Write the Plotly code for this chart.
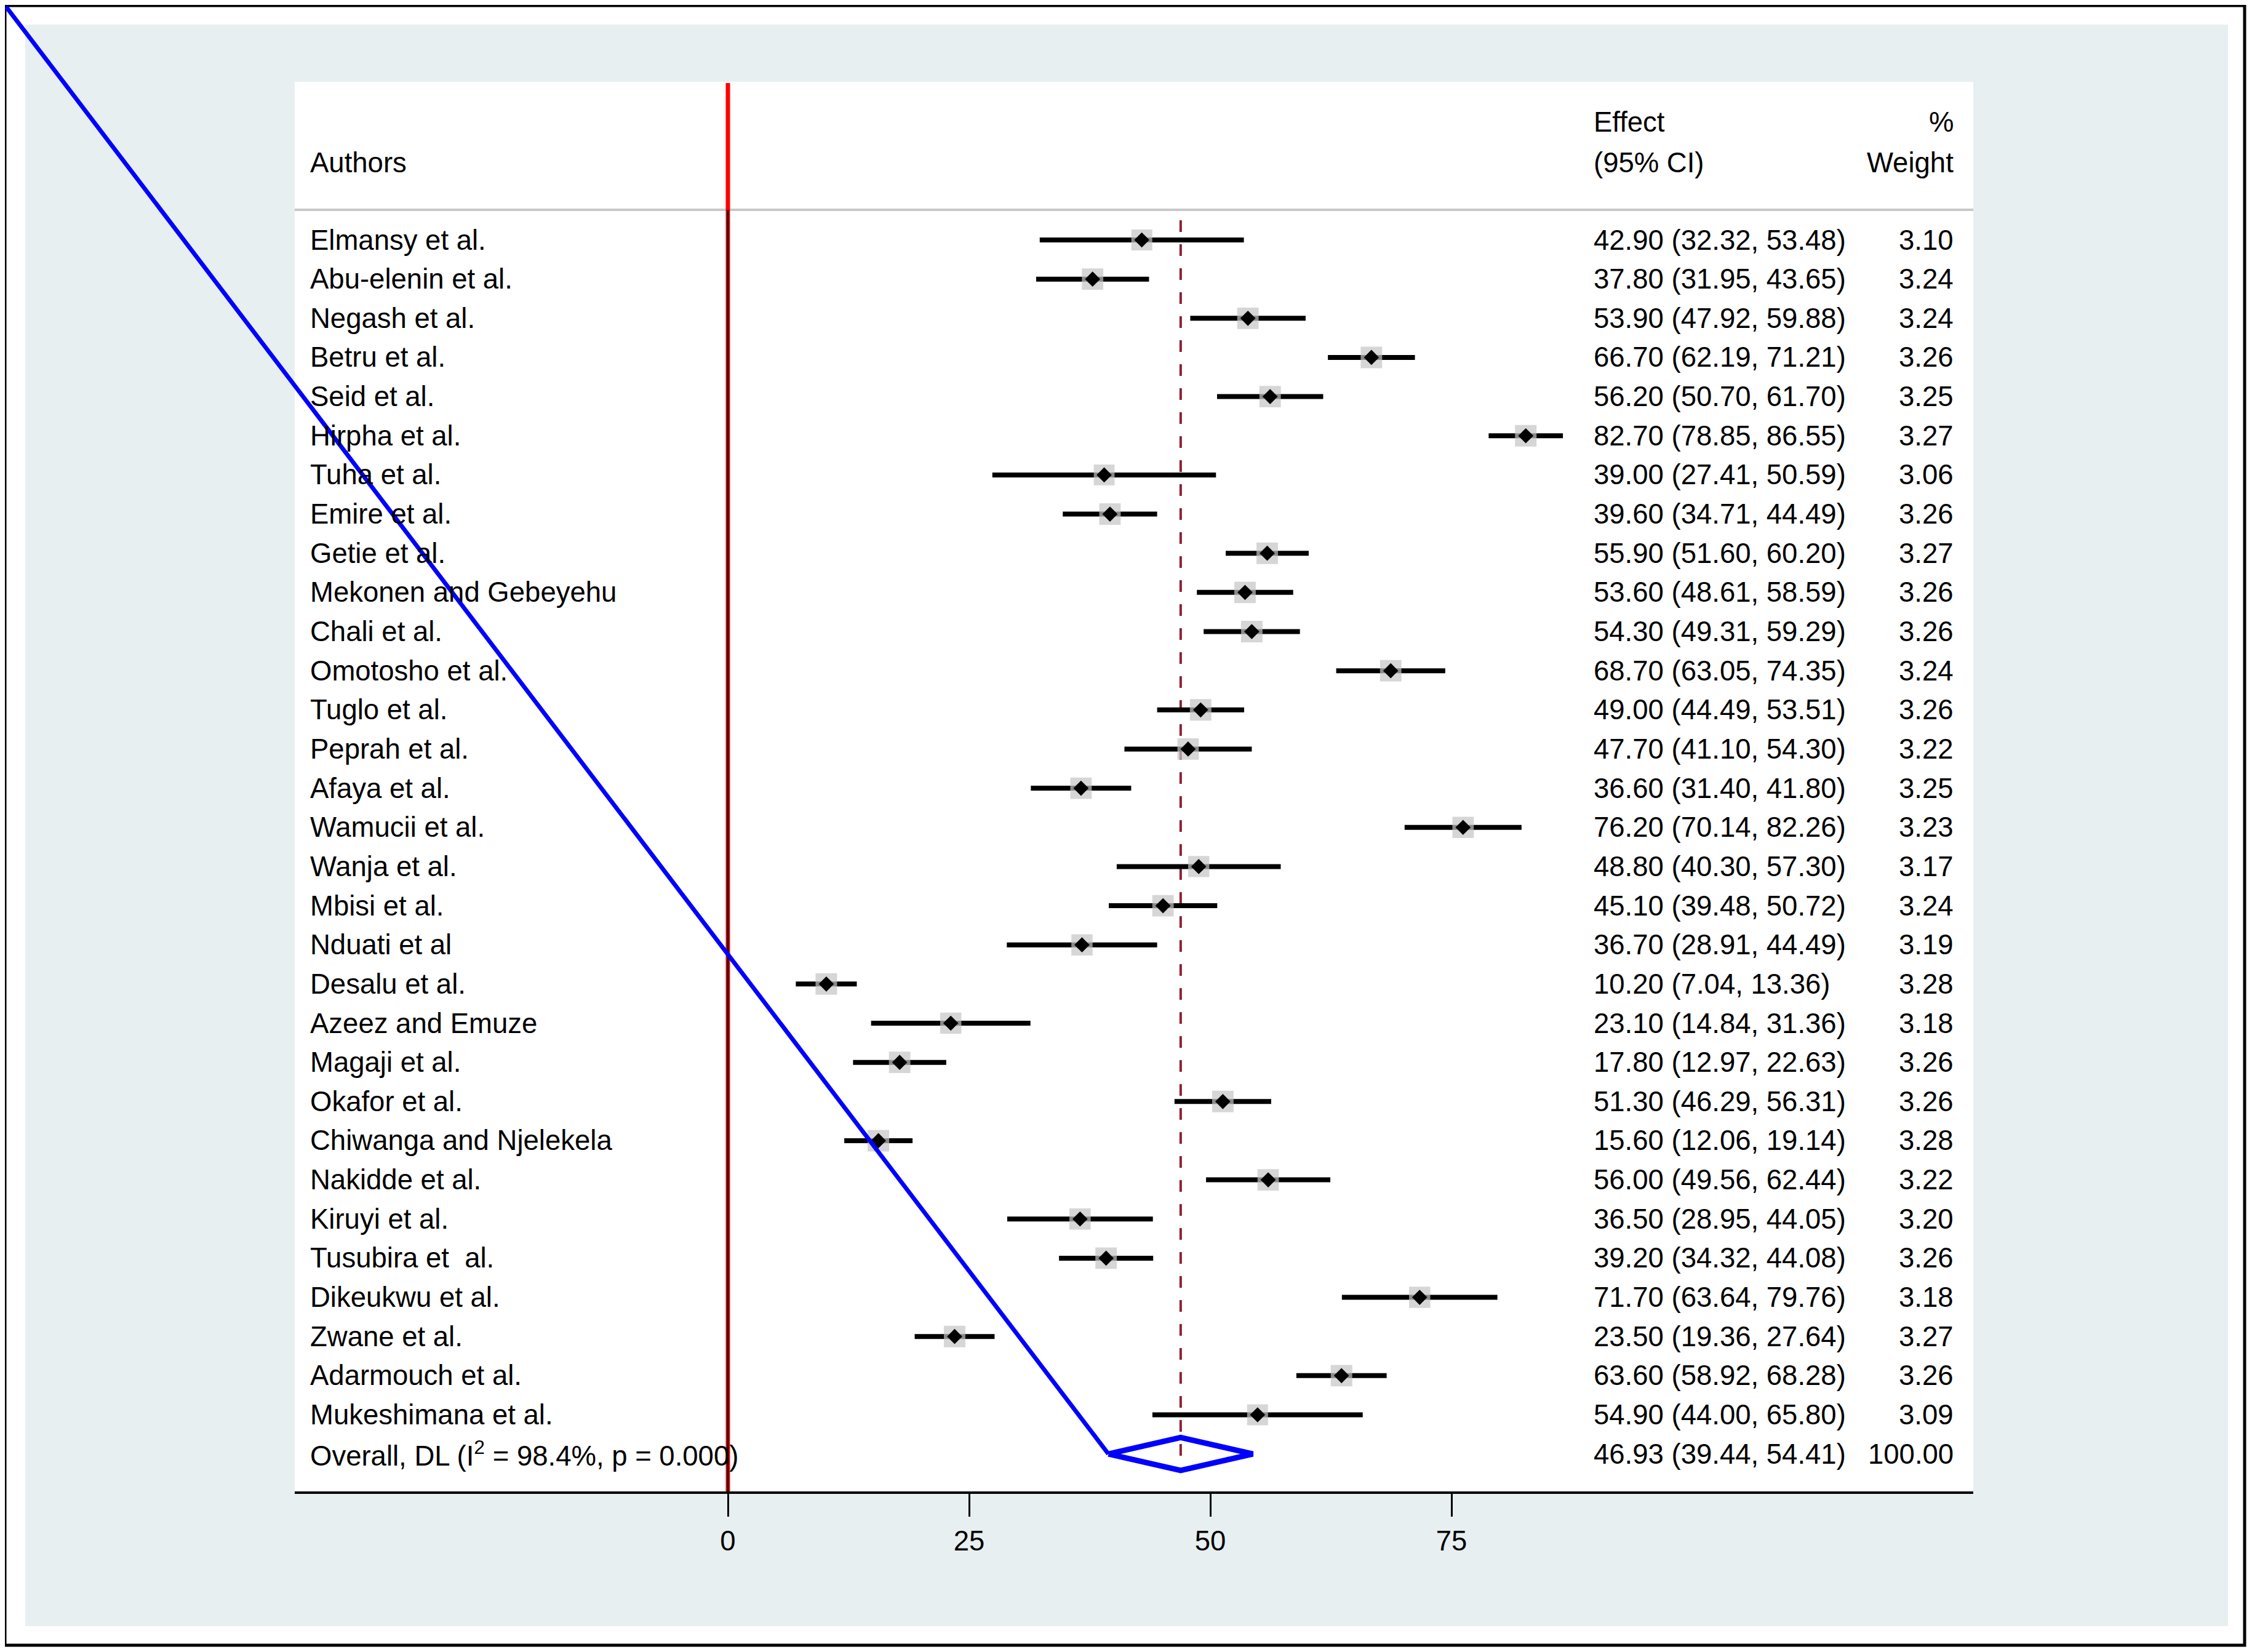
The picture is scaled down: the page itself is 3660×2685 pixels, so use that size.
import plotly.graph_objects as go

# ---------------- data ----------------
authors = [
    "Elmansy et al.", "Abu-elenin et al.", "Negash et al.", "Betru et al.", "Seid et al.",
    "Hirpha et al.", "Tuha et al.", "Emire et al.", "Getie et al.", "Mekonen and Gebeyehu",
    "Chali et al.", "Omotosho et al.", "Tuglo et al.", "Peprah et al.", "Afaya et al.",
    "Wamucii et al.", "Wanja et al.", "Mbisi et al.", "Nduati et al", "Desalu et al.",
    "Azeez and Emuze", "Magaji et al.", "Okafor et al.", "Chiwanga and Njelekela", "Nakidde et al.",
    "Kiruyi et al.", "Tusubira et\u00a0 al.", "Dikeukwu et al.", "Zwane et al.", "Adarmouch et al.",
    "Mukeshimana et al.",
]
effects = [42.90, 37.80, 53.90, 66.70, 56.20, 82.70, 39.00, 39.60, 55.90, 53.60,
           54.30, 68.70, 49.00, 47.70, 36.60, 76.20, 48.80, 45.10, 36.70, 10.20,
           23.10, 17.80, 51.30, 15.60, 56.00, 36.50, 39.20, 71.70, 23.50, 63.60, 54.90]
lower = [32.32, 31.95, 47.92, 62.19, 50.70, 78.85, 27.41, 34.71, 51.60, 48.61,
         49.31, 63.05, 44.49, 41.10, 31.40, 70.14, 40.30, 39.48, 28.91, 7.04,
         14.84, 12.97, 46.29, 12.06, 49.56, 28.95, 34.32, 63.64, 19.36, 58.92, 44.00]
upper = [53.48, 43.65, 59.88, 71.21, 61.70, 86.55, 50.59, 44.49, 60.20, 58.59,
         59.29, 74.35, 53.51, 54.30, 41.80, 82.26, 57.30, 50.72, 44.49, 13.36,
         31.36, 22.63, 56.31, 19.14, 62.44, 44.05, 44.08, 79.76, 27.64, 68.28, 65.80]
weights = [3.10, 3.24, 3.24, 3.26, 3.25, 3.27, 3.06, 3.26, 3.27, 3.26,
           3.26, 3.24, 3.26, 3.22, 3.25, 3.23, 3.17, 3.24, 3.19, 3.28,
           3.18, 3.26, 3.26, 3.28, 3.22, 3.20, 3.26, 3.18, 3.27, 3.26, 3.09]

overall_label = "Overall, DL (I<sup>2</sup> = 98.4%, p = 0.000)"
overall_effect = 46.93
overall_lower = 39.44
overall_upper = 54.41
overall_weight = 100.00

header_authors = "Authors"
header_effect = ["Effect", "(95% CI)"]
header_weight = ["%", "Weight"]
tick_vals = [0, 25, 50, 75]
tick_text = ["0", "25", "50", "75"]

# ---------------- layout geometry (reference pixels) ----------------
OFF = 8  # page body margin added by the browser
W, H = 3660 - 2 * OFF, 2685 - 2 * OFF
L, R, T, B = 479, 3207, 133, 2424          # plot-area box in page pixels
X0_PX, PX_PER_UNIT = 1183, 15.68
ROW0_PX, ROW_STEP = 390, 63.65
xmin = (L - X0_PX) / PX_PER_UNIT
xmax = (R - X0_PX) / PX_PER_UNIT
ytop = (T - ROW0_PX) / ROW_STEP
ybot = (B - ROW0_PX) / ROW_STEP


def pxx(px):
    return (px - L) / (R - L)


def pxy(py):
    return (B - py) / (B - T)


def row_of(py):
    return (py - ROW0_PX) / ROW_STEP


n = len(authors)
rows = list(range(n))
orow = n
FONT = "Liberation Sans, Arial, sans-serif"
FS = 45.5

fig = go.Figure()

# reference line at 0 (red, with dark core below header)
header_row = row_of(341)
fig.add_trace(go.Scatter(x=[0, 0], y=[row_of(135), ybot], mode="lines",
                         line=dict(color="#ff0000", width=7), hoverinfo="skip", showlegend=False))
fig.add_trace(go.Scatter(x=[0, 0], y=[header_row, ybot], mode="lines",
                         line=dict(color="#000000", width=3), hoverinfo="skip", showlegend=False))

# overall dashed line
fig.add_trace(go.Scatter(x=[overall_effect, overall_effect], y=[row_of(358), orow + 0.4], mode="lines",
                         line=dict(color="#8b2232", width=4, dash="19px,20px"),
                         hoverinfo="skip", showlegend=False))

# CI lines
cx, cy = [], []
for lo, hi, r in zip(lower, upper, rows):
    cx += [lo, hi, None]
    cy += [r, r, None]
fig.add_trace(go.Scatter(x=cx, y=cy, mode="lines", line=dict(color="black", width=8),
                         hoverinfo="skip", showlegend=False))

# weight boxes
maxw = max(weights)
fig.add_trace(go.Scatter(x=effects, y=rows, mode="markers",
                         marker=dict(symbol="square", color="#c4c4c4",
                                     size=[35 * (w / maxw) ** 0.5 for w in weights],
                                     line=dict(width=0)),
                         hoverinfo="skip", showlegend=False))
# point estimates
fig.add_trace(go.Scatter(x=effects, y=rows, mode="markers",
                         marker=dict(symbol="diamond", color="black", size=19, line=dict(width=0)),
                         hoverinfo="skip", showlegend=False))

# overall diamond
dh = 0.42
fig.add_trace(go.Scatter(x=[overall_lower, overall_effect, overall_upper, overall_effect, overall_lower],
                         y=[orow, orow - dh, orow, orow + dh, orow], mode="lines",
                         line=dict(color="#0000ff", width=9), hoverinfo="skip", showlegend=False))

# ---------------- shapes ----------------
shapes = []
shapes.append(dict(type="rect", xref="paper", yref="paper", x0=pxx(41), x1=pxx(3621),
                   y0=pxy(2643), y1=pxy(40), fillcolor="#e8eff1", line=dict(width=0), layer="below"))
shapes.append(dict(type="rect", xref="paper", yref="paper", x0=0, x1=1, y0=0, y1=1,
                   fillcolor="white", line=dict(width=0), layer="below"))
shapes.append(dict(type="line", xref="paper", yref="y", x0=0, x1=1, y0=header_row, y1=header_row,
                   line=dict(color="#c8c8c8", width=4), layer="below"))
shapes.append(dict(type="rect", xref="paper", yref="paper", x0=pxx(8), x1=pxx(3648),
                   y0=pxy(2674), y1=pxy(9), line=dict(color="black", width=5), fillcolor="rgba(0,0,0,0)"))
shapes.append(dict(type="line", xref="paper", yref="paper",
                   x0=pxx(10), y0=pxy(11),
                   x1=(overall_lower - xmin) / (xmax - xmin),
                   y1=(ybot - orow) / (ybot - ytop),
                   line=dict(color="#0000ff", width=7)))

# ---------------- text ----------------
ann = []
AX = pxx(502)
EX = pxx(2588)
WX = pxx(3177)


def txt(x, y, s, anchor):
    ann.append(dict(x=x, y=y, xref="paper", yref="y", text=s, showarrow=False,
                    xanchor=anchor, yanchor="middle", font=dict(family=FONT, size=FS, color="black")))


txt(AX, row_of(264), header_authors, "left")
txt(EX, row_of(198), header_effect[0], "left")
txt(EX, row_of(264), header_effect[1], "left")
txt(WX, row_of(198), header_weight[0], "right")
txt(WX, row_of(264), header_weight[1], "right")

for r, a, e, lo, hi, w in zip(rows, authors, effects, lower, upper, weights):
    txt(AX, r, a, "left")
    txt(EX, r, f"{e:.2f} ({lo:.2f}, {hi:.2f})", "left")
    txt(WX, r, f"{w:.2f}", "right")

txt(AX, orow, overall_label, "left")
txt(EX, orow, f"{overall_effect:.2f} ({overall_lower:.2f}, {overall_upper:.2f})", "left")
txt(WX, orow, f"{overall_weight:.2f}", "right")

fig.update_layout(
    width=W, height=H,
    margin=dict(l=L - OFF, r=W - (R - OFF), t=T - OFF, b=H - (B - OFF), pad=0),
    paper_bgcolor="white",
    plot_bgcolor="rgba(0,0,0,0)",
    shapes=shapes,
    annotations=ann,
    showlegend=False,
    font=dict(family=FONT, size=FS, color="black"),
    xaxis=dict(range=[xmin, xmax], tickvals=tick_vals, ticktext=tick_text,
               ticks="outside", ticklen=37, tickwidth=3, tickcolor="black",
               showline=True, linewidth=4, linecolor="black", mirror=False,
               showgrid=False, zeroline=False, tickfont=dict(family=FONT, size=FS, color="black"),
               fixedrange=True),
    yaxis=dict(range=[ybot, ytop], visible=False, showgrid=False, zeroline=False, fixedrange=True),
)

fig.write_html("out.html")
